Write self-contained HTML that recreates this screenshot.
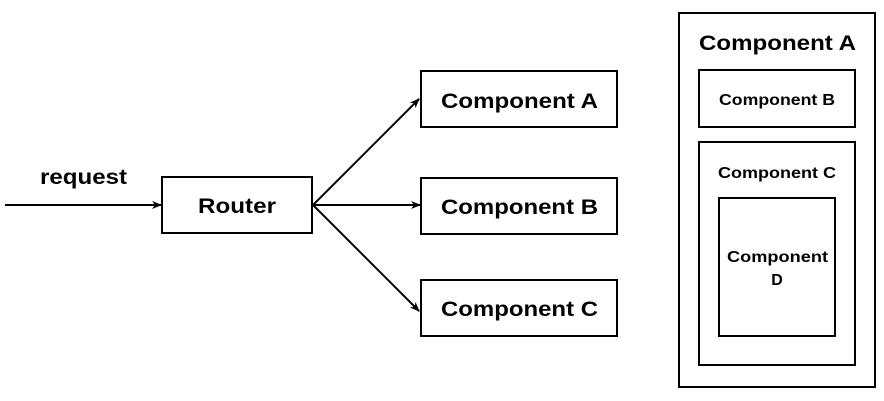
<!DOCTYPE html>
<html><head><meta charset="utf-8"><style>
html,body{margin:0;padding:0;background:#fff;}
</style></head><body>
<svg width="884" height="401" xmlns="http://www.w3.org/2000/svg" style="display:block">
<defs><marker id="a" markerWidth="10" markerHeight="8" refX="9" refY="4" orient="auto" markerUnits="userSpaceOnUse"><path d="M0,0 L10,4 L0,8 L3,4 Z" fill="#000"/></marker></defs>
<g fill="none" stroke="#000" stroke-width="2">
<rect x="162" y="177" width="150" height="56"/>
<rect x="421" y="71" width="196" height="56"/>
<rect x="421" y="178" width="196" height="56"/>
<rect x="421" y="280" width="196" height="56"/>
<rect x="679" y="13" width="196" height="374"/>
<rect x="699" y="70" width="156" height="57"/>
<rect x="699" y="142" width="156" height="223"/>
<rect x="719" y="198" width="116" height="138"/>
<line x1="5" y1="205" x2="161" y2="205" marker-end="url(#a)"/>
<line x1="313" y1="205" x2="419" y2="99" marker-end="url(#a)"/>
<line x1="313" y1="205" x2="420" y2="205" marker-end="url(#a)"/>
<line x1="313" y1="205" x2="419" y2="311" marker-end="url(#a)"/>
</g>
<g font-family="Liberation Sans, sans-serif" font-weight="bold" fill="#000" lengthAdjust="spacingAndGlyphs">
<text x="40" y="184" font-size="21" textLength="87" lengthAdjust="spacingAndGlyphs">request</text>
<text x="198" y="213" font-size="21" textLength="78" lengthAdjust="spacingAndGlyphs">Router</text>
<text x="441" y="108" font-size="21" textLength="157" lengthAdjust="spacingAndGlyphs">Component A</text>
<text x="441" y="214" font-size="21" textLength="157" lengthAdjust="spacingAndGlyphs">Component B</text>
<text x="441" y="316" font-size="21" textLength="157" lengthAdjust="spacingAndGlyphs">Component C</text>
<text x="699" y="50" font-size="21" textLength="157" lengthAdjust="spacingAndGlyphs">Component A</text>
<text x="719" y="105" font-size="16" textLength="116" lengthAdjust="spacingAndGlyphs">Component B</text>
<text x="718" y="178" font-size="16" textLength="118" lengthAdjust="spacingAndGlyphs">Component C</text>
<text x="727" y="262" font-size="16" textLength="101" lengthAdjust="spacingAndGlyphs">Component</text>
<text x="777" y="285" font-size="16" text-anchor="middle">D</text>
</g>
</svg>
</body></html>
